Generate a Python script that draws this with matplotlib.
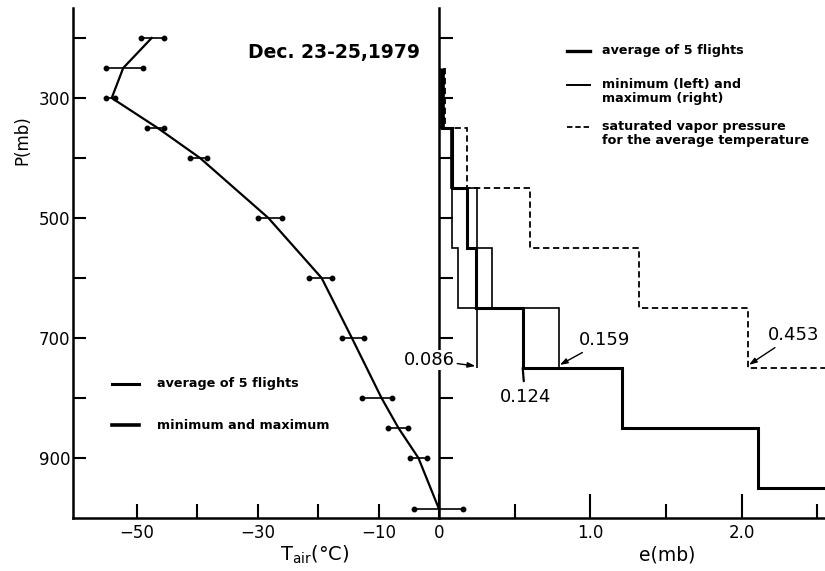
import matplotlib
matplotlib.use("Agg")
import matplotlib.pyplot as plt
from matplotlib.lines import Line2D

plt.rcParams["font.family"] = ["DejaVu Sans"]
plt.rcParams["mathtext.fontset"] = "dejavusans"

# ---- air temperature profile (average of 5 flights with min / max) ----
levels_mb = [200, 250, 300, 350, 400, 500, 600, 700, 800, 850, 900, 985]
t_avg = [-47.5, -52.2, -54.1, -46.5, -39.5, -28.2, -19.4, -14.4, -9.5, -6.7, -3.4, 0.0]
t_min = [-49.3, -55.1, -55.0, -48.2, -41.2, -30.0, -21.5, -16.1, -12.8, -8.5, -4.8, -4.1]
t_max = [-45.4, -48.9, -53.5, -45.4, -38.4, -25.9, -17.7, -12.4, -7.8, -5.2, -2.0, 4.0]

# ---- vapour pressure per 100 mb layer ----
layer_edges = [250, 350, 450, 550, 650, 750, 850, 950, 1000]
e_avg = [0.018, 0.088, 0.183, 0.242, 0.553, 1.207, 2.110, 2.900]
e_min = [0.008, 0.082, 0.084, 0.127, 0.250]
e_max = [0.030, 0.092, 0.249, 0.352, 0.790]
e_sat = [0.040, 0.187, 0.600, 1.320, 2.040, 2.900]

# ratio labels at the 700 mb layer
lab_min = "0.086"
lab_avg = "0.124"
lab_max = "0.159"
lab_sat = "0.453"

title_text = "Dec. 23-25,1979"

W, H = 825, 571
fig = plt.figure(figsize=(W / 100, H / 100), dpi=100)
axL = fig.add_axes([73 / W, 53 / H, 366 / W, 510 / H])
axR = fig.add_axes([439 / W, 53 / H, 386 / W, 510 / H])
for ax in (axL, axR):
    ax.patch.set_visible(False)
    ax.spines["top"].set_visible(False)
    ax.spines["right"].set_visible(False)
    ax.spines["left"].set_linewidth(1.8)
    ax.spines["bottom"].set_linewidth(1.8)
    ax.set_ylim(1000, 150)

# ---------------- left panel: temperature ----------------
axL.set_xlim(-60.5, 0)
axL.plot(t_avg, levels_mb, color="black", lw=1.6, zorder=3, clip_on=False)
for p, lo, hi in zip(levels_mb, t_min, t_max):
    axL.plot([lo, hi], [p, p], color="black", lw=1.2, marker="o", ms=3.2,
             zorder=3, clip_on=False)

axL.set_xticks([-50, -30, -10])
axL.set_xticklabels(["\u221250", "\u221230", "\u221210"])
axL.set_xticks([-40, -20], minor=True)
axL.set_yticks([300, 500, 700, 900])
axL.set_yticks([200, 400, 600, 800], minor=True)
axL.tick_params(axis="x", which="both", direction="in", length=10, width=1.5,
                labelsize=12, pad=4)
axL.tick_params(axis="y", which="both", direction="in", length=9, width=1.5,
                labelsize=12, pad=2)

axL.set_xlabel("$\\mathregular{T_{air}}$(\u00b0C)", fontsize=14)
axL.xaxis.set_label_coords(0.66, -0.072)
axL.xaxis.label.set_va("center")
axL.set_ylabel("P(mb)", fontsize=12)
axL.yaxis.set_label_coords(-0.139, 0.741)
axL.yaxis.label.set_va("center")

axL.text(0.713, 0.912, title_text, transform=axL.transAxes, ha="center",
         va="center", fontsize=13.5, fontweight="bold")

# legend of the left panel
for yy, lw in ((0.263, 2.2), (0.182, 2.6)):
    axL.add_line(Line2D([0.107, 0.18], [yy, yy], transform=axL.transAxes,
                        color="black", lw=lw))
axL.text(0.23, 0.263, "average of 5 flights", transform=axL.transAxes,
         fontsize=9.2, fontweight="bold", va="center")
axL.text(0.23, 0.182, "minimum and maximum", transform=axL.transAxes,
         fontsize=9.2, fontweight="bold", va="center")

# ---------------- right panel: vapour pressure ----------------
axR.set_xlim(0, 2.55)
axR.stairs(e_avg, layer_edges, orientation="horizontal", baseline=None,
           color="black", lw=2.2)
axR.stairs(e_min, layer_edges[:len(e_min) + 1], orientation="horizontal",
           baseline=None, color="black", lw=1.2)
axR.stairs(e_max, layer_edges[:len(e_max) + 1], orientation="horizontal",
           baseline=None, color="black", lw=1.2)
axR.stairs(e_sat, layer_edges[:len(e_sat) + 1], orientation="horizontal",
           baseline=None, color="black", lw=1.3, linestyle=(0, (3.5, 2)))

axR.set_xticks([0, 1, 2])
axR.set_xticklabels(["0", "1.0", "2.0"])
axR.set_xticks([0.5, 1.5, 2.5], minor=True)
axR.tick_params(axis="x", which="major", direction="in", length=17, width=1.5,
                labelsize=12, pad=4)
axR.tick_params(axis="x", which="minor", direction="in", length=10, width=1.5)
axR.set_yticks(list(range(200, 1000, 100)))
axR.tick_params(axis="y", which="both", direction="in", length=10, width=1.5,
                labelleft=False)
axR.set_xlabel("e(mb)", fontsize=13.5)
axR.xaxis.set_label_coords(0.59, -0.072)
axR.xaxis.label.set_va("center")

arrow = dict(arrowstyle="-|>,head_length=0.35,head_width=0.12", color="black",
             lw=1.0, shrinkA=1, shrinkB=1)
bottom_700 = layer_edges[5]
axR.annotate(lab_min, xy=(e_min[-1], bottom_700 - 3), xytext=(-34, 4.5),
             textcoords="offset points", ha="center", va="center", fontsize=13,
             bbox=dict(fc="white", ec="none", pad=0.5), arrowprops=arrow,
             zorder=5)
axR.annotate(lab_max, xy=(e_max[-1], bottom_700 - 4), xytext=(33.4, 18.4),
             textcoords="offset points", ha="center", va="center", fontsize=13,
             arrowprops=arrow)
axR.annotate(lab_sat, xy=(e_sat[4], bottom_700 - 4), xytext=(33.2, 22),
             textcoords="offset points", ha="center", va="center", fontsize=13,
             arrowprops=arrow)
axR.annotate(lab_avg, xy=(e_avg[4], bottom_700), xytext=(1.7, -21),
             textcoords="offset points", ha="center", va="center", fontsize=13,
             arrowprops=dict(arrowstyle="-", color="black", lw=1.6,
                             shrinkA=3, shrinkB=0))

# legend of the right panel
axR.add_line(Line2D([0.332, 0.391], [0.916, 0.916], transform=axR.transAxes,
                    color="black", lw=2.4))
axR.add_line(Line2D([0.332, 0.391], [0.849, 0.849], transform=axR.transAxes,
                    color="black", lw=1.4))
axR.add_line(Line2D([0.332, 0.391], [0.767, 0.767], transform=axR.transAxes,
                    color="black", lw=1.3, linestyle=(0, (3, 1.6))))
axR.text(0.422, 0.916, "average of 5 flights", transform=axR.transAxes,
         fontsize=9.2, fontweight="bold", va="center")
axR.text(0.422, 0.863, "minimum (left) and\nmaximum (right)",
         transform=axR.transAxes, fontsize=9.2, fontweight="bold", va="top",
         linespacing=1.1)
axR.text(0.422, 0.781, "saturated vapor pressure\nfor the average temperature",
         transform=axR.transAxes, fontsize=9.2, fontweight="bold", va="top",
         linespacing=1.1)

fig.savefig("out.png", dpi=100, facecolor="white")
